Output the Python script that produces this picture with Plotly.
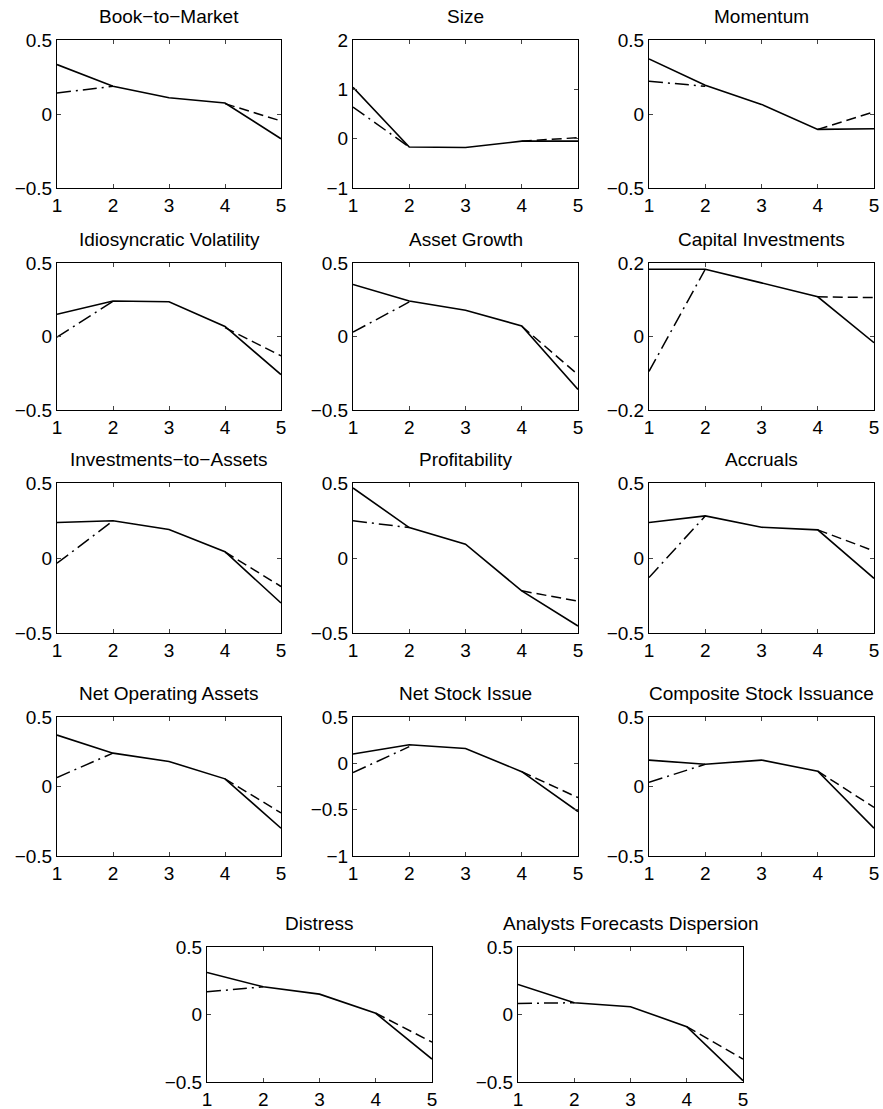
import plotly.graph_objects as go

# ---------------- data ----------------
quintiles = [1, 2, 3, 4, 5]
x_low = [1, 2]
x_high = [4, 5]

titles = ["Book\u2212to\u2212Market", "Size", "Momentum",
          "Idiosyncratic Volatility", "Asset Growth", "Capital Investments",
          "Investments\u2212to\u2212Assets", "Profitability", "Accruals",
          "Net Operating Assets", "Net Stock Issue", "Composite Stock Issuance",
          "Distress", "Analysts Forecasts Dispersion"]

bm_solid = [0.334, 0.187, 0.11, 0.074, -0.167]
bm_dashdot = [0.142, 0.187]
bm_dash = [0.07, -0.047]

size_solid = [1.04, -0.17, -0.18, -0.05, -0.05]
size_dashdot = [0.64, -0.17]
size_dash = [-0.05, 0.02]

mom_solid = [0.372, 0.194, 0.065, -0.104, -0.10]
mom_dashdot = [0.221, 0.187]
mom_dash = [-0.104, 0.014]

ivol_solid = [0.151, 0.241, 0.236, 0.068, -0.259]
ivol_dashdot = [-0.005, 0.24]
ivol_dash = [0.06, -0.131]

ag_solid = [0.354, 0.241, 0.178, 0.072, -0.36]
ag_dashdot = [0.03, 0.235]
ag_dash = [0.07, -0.26]

ci_solid = [0.183, 0.183, 0.146, 0.108, -0.017]
ci_dashdot = [-0.095, 0.183]
ci_dash = [0.108, 0.106]

ita_solid = [0.237, 0.248, 0.19, 0.042, -0.30]
ita_dashdot = [-0.035, 0.248]
ita_dash = [0.04, -0.19]

prof_solid = [0.467, 0.203, 0.092, -0.219, -0.453]
prof_dashdot = [0.248, 0.203]
prof_dash = [-0.219, -0.288]

acc_solid = [0.237, 0.281, 0.205, 0.1875, -0.136]
acc_dashdot = [-0.13, 0.28]
acc_dash = [0.1875, 0.047]

noa_solid = [0.37, 0.24, 0.18, 0.055, -0.30]
noa_dashdot = [0.065, 0.24]
noa_dash = [0.055, -0.19]

nsi_solid = [0.1, 0.2, 0.16, -0.09, -0.52]
nsi_dashdot = [-0.1, 0.18]
nsi_dash = [-0.09, -0.37]

csi_solid = [0.19, 0.16, 0.19, 0.11, -0.3]
csi_dashdot = [0.03, 0.16]
csi_dash = [0.11, -0.15]

dist_solid = [0.311, 0.205, 0.151, 0.009, -0.33]
dist_dashdot = [0.168, 0.205]
dist_dash = [0.01, -0.205]

afd_solid = [0.222, 0.087, 0.058, -0.09, -0.49]
afd_dashdot = [0.082, 0.087]
afd_dash = [-0.09, -0.33]

yticks_std = [-0.5, 0, 0.5]
yticks_size = [-1, 0, 1, 2]
yticks_ci = [-0.2, 0, 0.2]
yticks_nsi = [-1, -0.5, 0, 0.5]

panels = [
    (bm_solid, bm_dashdot, bm_dash, yticks_std),
    (size_solid, size_dashdot, size_dash, yticks_size),
    (mom_solid, mom_dashdot, mom_dash, yticks_std),
    (ivol_solid, ivol_dashdot, ivol_dash, yticks_std),
    (ag_solid, ag_dashdot, ag_dash, yticks_std),
    (ci_solid, ci_dashdot, ci_dash, yticks_ci),
    (ita_solid, ita_dashdot, ita_dash, yticks_std),
    (prof_solid, prof_dashdot, prof_dash, yticks_std),
    (acc_solid, acc_dashdot, acc_dash, yticks_std),
    (noa_solid, noa_dashdot, noa_dash, yticks_std),
    (nsi_solid, nsi_dashdot, nsi_dash, yticks_nsi),
    (csi_solid, csi_dashdot, csi_dash, yticks_std),
    (dist_solid, dist_dashdot, dist_dash, yticks_std),
    (afd_solid, afd_dashdot, afd_dash, yticks_std),
]

# ---------------- layout geometry (pixels) ----------------
W, H = 883, 1109
cols = [(57, 281), (353, 578), (649, 874)]
rows = [(40, 188), (263, 410), (483, 633), (717, 856)]
last_cols = [(207, 432), (518, 743)]
last_row = (947, 1082)

boxes = []
for r in rows:
    for c in cols:
        boxes.append((c, r))
for c in last_cols:
    boxes.append((c, last_row))

FONT = "Liberation Sans, Arial, Helvetica, sans-serif"
FS = 19
fig = go.Figure()
layout = dict(width=W, height=H, margin=dict(l=0, r=0, t=0, b=0, autoexpand=False),
              paper_bgcolor="white", plot_bgcolor="white", showlegend=False,
              font=dict(family=FONT, size=FS, color="black"))
annotations = []

for i, ((solid, dd, da, yt), ((x0, x1), (y0, y1))) in enumerate(zip(panels, boxes)):
    n = i + 1
    xa = "x" if n == 1 else f"x{n}"
    ya = "y" if n == 1 else f"y{n}"
    fig.add_trace(go.Scatter(x=x_low, y=dd, mode="lines", xaxis=xa, yaxis=ya,
                             line=dict(color="black", width=1.5, dash="14px,5px,2px,5px")))
    fig.add_trace(go.Scatter(x=x_high, y=da, mode="lines", xaxis=xa, yaxis=ya,
                             line=dict(color="black", width=1.5, dash="10px,5px")))
    fig.add_trace(go.Scatter(x=quintiles, y=solid, mode="lines", xaxis=xa, yaxis=ya,
                             line=dict(color="black", width=1.6)))
    xkey = "xaxis" if n == 1 else f"xaxis{n}"
    ykey = "yaxis" if n == 1 else f"yaxis{n}"
    layout[xkey] = dict(domain=[x0 / W, x1 / W], anchor=ya, range=[1, 5],
                        tickvals=quintiles, ticks="inside", ticklen=4,
                        showline=True, linecolor="black", linewidth=1, mirror="ticks",
                        showgrid=False, zeroline=False, fixedrange=True,
                        tickfont=dict(size=FS))
    layout[ykey] = dict(domain=[1 - y1 / H, 1 - y0 / H], anchor=xa,
                        range=[yt[0], yt[-1]], tickvals=yt, ticks="inside", ticklen=4,
                        showline=True, linecolor="black", linewidth=1, mirror="ticks",
                        showgrid=False, zeroline=False, fixedrange=True,
                        tickfont=dict(size=FS))
    annotations.append(dict(text=titles[i], x=(x0 + x1) / 2 / W, y=1 - (y0 - 11) / H,
                            xref="paper", yref="paper", showarrow=False,
                            xanchor="center", yanchor="bottom",
                            font=dict(size=FS, family=FONT, color="black")))

layout["annotations"] = annotations
fig.update_layout(**layout)
fig.write_html("out.html", config={"displayModeBar": False, "staticPlot": True},
               post_script="document.body.style.margin='0px';document.body.style.overflow='hidden';")
